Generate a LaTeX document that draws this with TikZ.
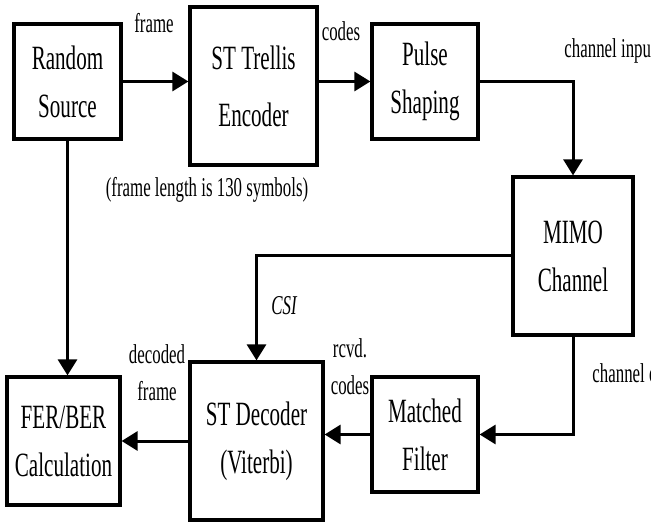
\documentclass[tikz,border=0pt]{standalone}
\usepackage{fontspec}
\setmainfont{Liberation Serif}[FakeStretch=0.62]
\usetikzlibrary{arrows.meta}
\tikzset{
  blk-box/.style={draw,line width=1.6pt,inner sep=0pt,align=center,
    font=\fontsize{17}{24}\selectfont},
  blk-lbl/.style={align=center,inner sep=0pt,font=\fontsize{13.6}{18.5}\selectfont},
  arrow-sig/.style={-{Triangle[length=8pt,width=9.5pt]},line width=1.5pt},
}

\begin{document}
\begin{tikzpicture}[x=0.5pt,y=-0.5pt]
  \useasboundingbox (0,0) rectangle (651,522);
  \clip (0,0) rectangle (651,522);
  % transmitter
  \node[blk-box,minimum width=53.5pt,minimum height=57.5pt] (src) at (67.5,81.5) {Random\\Source};
  \node[blk-box,minimum width=63.5pt,minimum height=79pt,font=\fontsize{17}{28.5}\selectfont] (enc) at (253.5,86) {ST Trellis\\Encoder};
  \node[blk-box,minimum width=53pt,minimum height=57.5pt] (pulse) at (425,81.5) {Pulse\\Shaping};
  \node[blk-box,minimum width=60pt,minimum height=79pt] (mimo) at (573,256) {MIMO\\Channel};
  % receiver
  \node[blk-box,minimum width=53pt,minimum height=57.5pt] (mf) at (425,434.5) {Matched\\Filter};
  \node[blk-box,minimum width=66.5pt,minimum height=79pt] (dec) at (256.5,441) {ST Decoder\\(Viterbi)};
  \node[blk-box,minimum width=56.5pt,minimum height=64pt] (fer) at (63.5,441) {FER/BER\\Calculation};

  \draw[arrow-sig] (src.east) -- (src.east -| enc.west);
  \draw[arrow-sig] (pulse.west -| enc.east) -- (pulse.west);
  \draw[arrow-sig] (pulse.east) -| (mimo.north);
  \draw[arrow-sig] (mimo.west) -| (dec.north);
  \draw[arrow-sig] (mimo.south) |- (mf.east);
  \draw[arrow-sig] (mf.west) -- (mf.west -| dec.east);
  \draw[arrow-sig] (dec.west) -- (dec.west -| fer.east);
  \draw[arrow-sig] (src.south) -- (src.south |- fer.north);

  \node[blk-lbl,anchor=base] (l-frame) at (154,33) {frame};
  \node[blk-lbl,anchor=base] (l-codes) at (341,41) {codes};
  \node[blk-lbl,anchor=base west] (l-chin) at (564,58) {channel input};
  \node[blk-lbl,anchor=base] (l-len) at (207,197) {(frame length is 130 symbols)};
  \node[blk-lbl,anchor=base] (l-csi) at (284,315) {\itshape CSI};
  \node[blk-lbl] (l-dec) at (157,373) {decoded\\frame};
  \node[blk-lbl] (l-rcvd) at (350,367) {rcvd.\\codes};
  \node[blk-lbl,anchor=base west] (l-chout) at (592,383) {channel output};
\end{tikzpicture}
\end{document}
